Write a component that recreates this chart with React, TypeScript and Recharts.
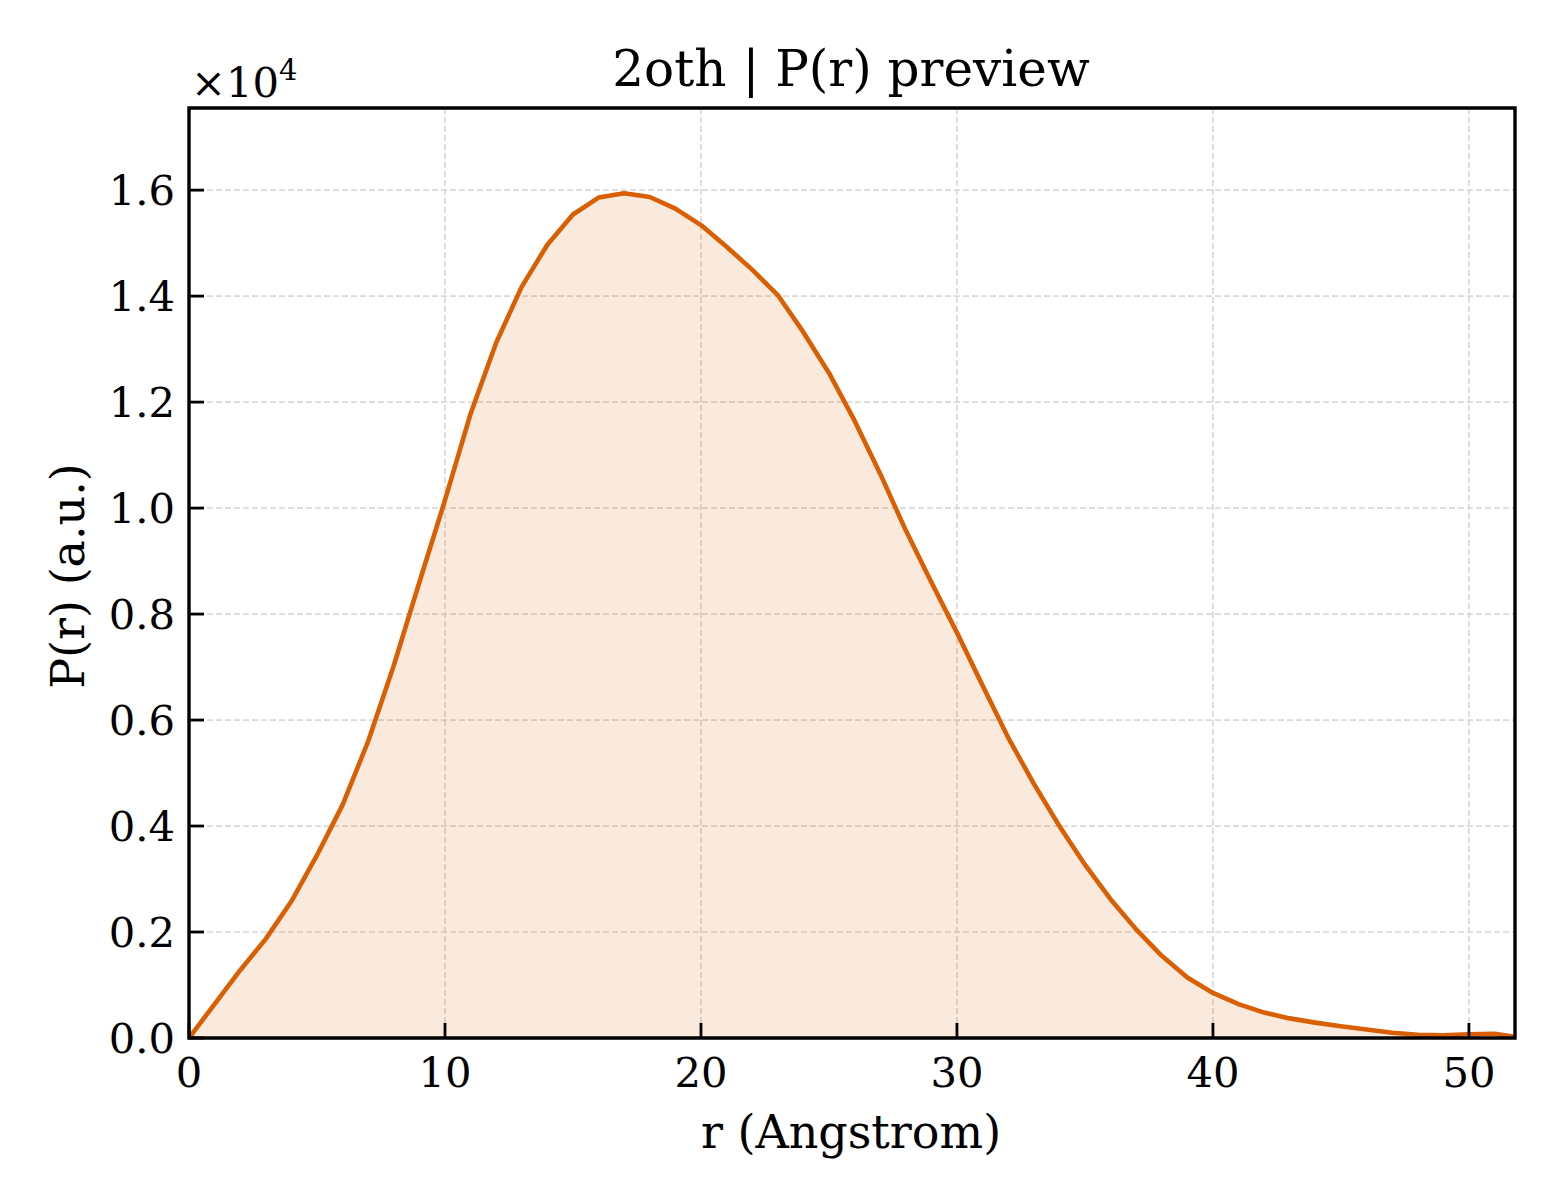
import { AreaChart, Area, XAxis, YAxis, CartesianGrid, ReferenceArea } from 'recharts';

// r in Angstrom, P(r) in units of 1e4
const rValues = [
  0, 1, 2, 3, 4, 5, 6, 7, 8, 9, 10, 11, 12, 13, 14, 15, 16, 17, 18, 19, 20, 21, 22, 23, 24, 25,
  26, 27, 28, 29, 30, 31, 32, 33, 34, 35, 36, 37, 38, 39, 40, 41, 42, 43, 44, 45, 46, 47, 48, 49,
  50, 51, 51.8,
];
const pValues = [
  0, 0.064, 0.128, 0.187, 0.258, 0.345, 0.44, 0.56, 0.703, 0.86, 1.015, 1.178, 1.312, 1.418,
  1.497, 1.554, 1.586, 1.594, 1.587, 1.565, 1.534, 1.493, 1.45, 1.402, 1.332, 1.255, 1.165,
  1.065, 0.958, 0.86, 0.765, 0.665, 0.567, 0.48, 0.4, 0.327, 0.262, 0.205, 0.155, 0.114, 0.085,
  0.064, 0.048, 0.037, 0.029, 0.022, 0.016, 0.01, 0.006, 0.005, 0.007, 0.008, 0.002,
];
const xTicks = [0, 10, 20, 30, 40, 50];
const yTicks = [0, 0.2, 0.4, 0.6, 0.8, 1.0, 1.2, 1.4, 1.6];

const data = rValues.map((r, i) => ({ r, p: pValues[i] }));

const FONT = '"DejaVu Serif", serif';
const LINE = '#D95F02';
const TICK_FS = 41.7;

function XTick({ x, y, payload }: any) {
  return (
    <g>
      <line x1={x} y1={y} x2={x} y2={y - 15} stroke="#000" strokeWidth={2.8} />
      <text x={x} y={y + 49} textAnchor="middle" fontFamily={FONT} fontSize={TICK_FS} fill="#000">
        {payload.value}
      </text>
    </g>
  );
}

function YTick({ x, y, payload }: any) {
  return (
    <g>
      <line x1={x} y1={y} x2={x + 15} y2={y} stroke="#000" strokeWidth={2.8} />
      <text x={x - 14} y={y + 15} textAnchor="end" fontFamily={FONT} fontSize={TICK_FS} fill="#000">
        {Number(payload.value).toFixed(1)}
      </text>
    </g>
  );
}

export default function App() {
  return (
    <div style={{ position: 'absolute', left: 0, top: 0, width: 1560, height: 1200, background: '#fff', fontFamily: FONT }}>
      <AreaChart width={1560} height={1200} data={data} margin={{ top: 108, right: 45, bottom: 0, left: 0 }}>
        <CartesianGrid stroke="#d9d9d9" strokeWidth={1.7} strokeDasharray="6 3" />
        <XAxis
          dataKey="r"
          type="number"
          domain={[0, 51.8]}
          ticks={xTicks}
          height={162}
          tickSize={0}
          tickMargin={0}
          axisLine={false}
          tick={<XTick />}
          allowDataOverflow
        />
        <YAxis
          type="number"
          domain={[0, 1.755]}
          ticks={yTicks}
          width={189}
          tickSize={0}
          tickMargin={0}
          axisLine={false}
          tick={<YTick />}
          allowDataOverflow
        />
        <Area
          type="linear"
          dataKey="p"
          stroke={LINE}
          strokeWidth={4.6}
          strokeLinejoin="round"
          fill={LINE}
          fillOpacity={0.13}
          dot={false}
          activeDot={false}
          isAnimationActive={false}
        />
        <ReferenceArea x1={0} x2={51.8} y1={0} y2={1.755} fill="none" stroke="#000" strokeWidth={3.4} ifOverflow="visible" />
      </AreaChart>

      <div style={{ position: 'absolute', left: 851, top: 44, transform: 'translateX(-50%)', fontSize: 50, lineHeight: 1, whiteSpace: 'nowrap' }}>
        2oth | P(r) preview
      </div>
      <div style={{ position: 'absolute', left: 191, top: 62, fontSize: TICK_FS, lineHeight: 1, whiteSpace: 'nowrap' }}>
        ×10
        <span style={{ position: 'relative', top: -17, fontSize: 29 }}>4</span>
      </div>
      <div style={{ position: 'absolute', left: 851, top: 1109, transform: 'translateX(-50%)', fontSize: 46, lineHeight: 1, whiteSpace: 'nowrap' }}>
        r (Angstrom)
      </div>
      <div
        style={{
          position: 'absolute',
          left: 68,
          top: 576,
          transform: 'translate(-50%, -50%) rotate(-90deg)',
          fontSize: 46,
          lineHeight: 1,
          whiteSpace: 'nowrap',
        }}
      >
        P(r) (a.u.)
      </div>
    </div>
  );
}
